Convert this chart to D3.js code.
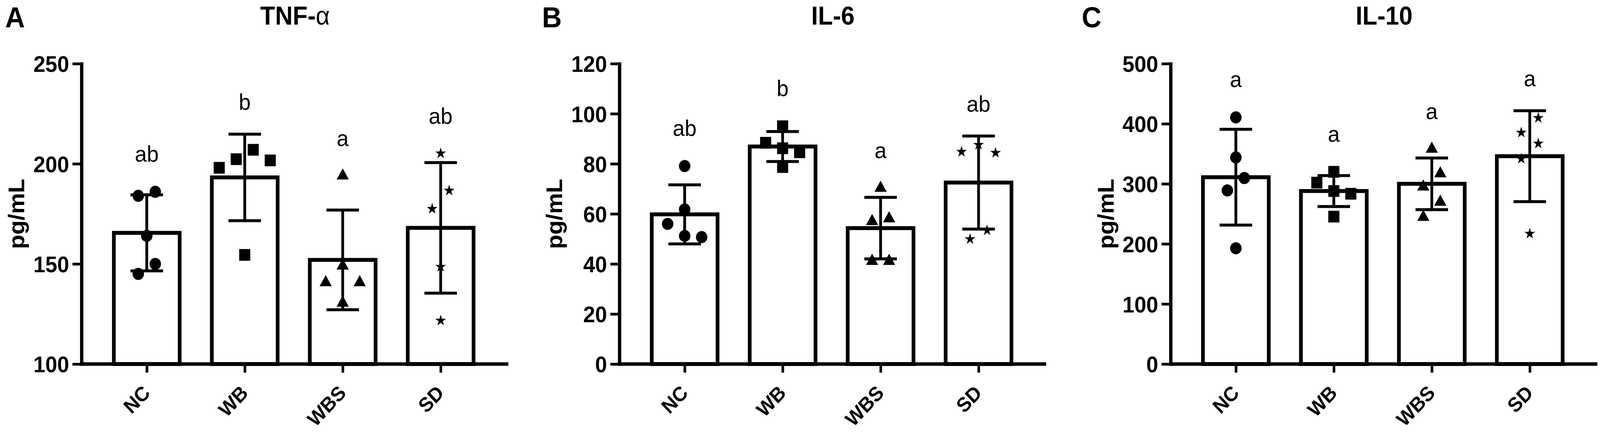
<!DOCTYPE html>
<html><head><meta charset="utf-8">
<script src="https://cdn.jsdelivr.net/npm/d3@7"></script>
<style>html,body{margin:0;padding:0;background:#fff;overflow:hidden}svg{display:block;width:100vw;height:100vh}</style>
</head><body><svg id="chart"></svg>
<script>
// ---------- data ----------
const groups = ["NC", "WB", "WBS", "SD"];
const panelLetters = ["A", "B", "C"];
const panelTitles = ["TNF-α", "IL-6", "IL-10"];
const yLabel = "pg/mL";

const tnfTicks = [100, 150, 200, 250];
const tnfMean = [165.5, 193.2, 152, 168];
const tnfSD = [19, 21.6, 24.9, 32.6];
const tnfPoints = [
  [184, 186, 164, 145, 150],
  [207, 201.7, 198, 202.3, 154.5],
  [194, 149, 140.7, 140.7, 130.5],
  [205.2, 186.6, 177.5, 148.6, 121.7]
];
const tnfSig = ["ab", "b", "a", "ab"];

const il6Ticks = [0, 20, 40, 60, 80, 100, 120];
const il6Mean = [59.8, 86.9, 54.3, 72.5];
const il6SD = [11.8, 6.0, 12.3, 18.6];
const il6Points = [
  [79.1, 61.8, 56, 51.2, 50.7],
  [95, 88.4, 86.2, 84.6, 78.7],
  [70.3, 58.1, 57, 41.1, 41.1],
  [84.8, 84.4, 87.6, 49.9, 53.4]
];
const il6Sig = ["ab", "b", "a", "ab"];

const il10Ticks = [0, 100, 200, 300, 400, 500];
const il10Mean = [311, 288, 300, 346];
const il10SD = [79.7, 25.8, 43, 75.7];
const il10Points = [
  [410.6, 344, 309.6, 289, 192.7],
  [320, 288, 302, 283.5, 245.4],
  [358, 317, 295, 269.7, 244.5],
  [409.6, 385.3, 367, 341.7, 217]
];
const il10Sig = ["a", "a", "a", "a"];

// ---------- layout ----------
const W = 4328, H = 1106;
const TOP = 163, BOTTOM = 932, PLOT_W = 1154;
const axisX = [221, 1676, 3167];
const letterX = [14, 1466, 2926];
const FONT = "'Liberation Sans', Arial, Helvetica, sans-serif";

const panels = [
  {ticks: tnfTicks, mean: tnfMean, sd: tnfSD, pts: tnfPoints, sig: tnfSig},
  {ticks: il6Ticks, mean: il6Mean, sd: il6SD, pts: il6Points, sig: il6Sig},
  {ticks: il10Ticks, mean: il10Mean, sd: il10SD, pts: il10Points, sig: il10Sig}
];

const symbols = [d3.symbolCircle, d3.symbolSquare, d3.symbolTriangle, d3.symbolStar];
const symSizes = [755, 900, 470, 260];
const symHalf = [15.5, 15, 14, 14];

const svg = d3.select("#chart")
  .attr("viewBox", `0 0 ${W} ${H}`)
  .attr("preserveAspectRatio", "none")
  .style("font-family", FONT);
svg.append("rect").attr("width", W).attr("height", H).attr("fill", "#fff");

// beeswarm-style horizontal spreading of overlapping points
function swarm(vals, ys, D, T) {
  const n = vals.length;
  const order = d3.range(n).sort((a, b) => vals[b] - vals[a]);
  const off = new Array(n).fill(0);
  const placed = [];
  const cands = [0];
  for (let k = 1; k < 10; k++) cands.push(-k * D / 2, k * D / 2);
  for (const i of order) {
    for (const c of cands) {
      const ok = placed.every(j => Math.abs(off[j] - c) >= D - 0.01 || Math.abs(ys[j] - ys[i]) >= T);
      if (ok) { off[i] = c; break; }
    }
    placed.push(i);
  }
  const comp = new Array(n).fill(-1);
  let cid = 0;
  for (let i = 0; i < n; i++) {
    if (comp[i] >= 0) continue;
    const stack = [i]; comp[i] = cid;
    while (stack.length) {
      const a = stack.pop();
      for (let b = 0; b < n; b++) {
        if (comp[b] < 0 && Math.abs(ys[a] - ys[b]) < T) { comp[b] = cid; stack.push(b); }
      }
    }
    cid++;
  }
  for (let c = 0; c < cid; c++) {
    const members = d3.range(n).filter(i => comp[i] === c);
    const mn = d3.min(members, i => off[i]), mx = d3.max(members, i => off[i]);
    const shift = -(mn + mx) / 2;
    members.forEach(i => off[i] += shift);
  }
  return off;
}

panels.forEach((p, pi) => {
  const x0 = axisX[pi], x1 = x0 + PLOT_W;
  const g = svg.append("g");
  const y = d3.scaleLinear().domain(d3.extent(p.ticks)).range([BOTTOM, TOP]);
  const x = d3.scalePoint().domain(groups).range([x0 + 176, x0 + 971]);

  // panel letter
  g.append("text").attr("x", letterX[pi]).attr("y", 70)
    .attr("font-size", 74).attr("font-weight", "bold").text(panelLetters[pi]);

  // title
  const t = g.append("text").attr("x", (x0 + x1) / 2).attr("y", 63)
    .attr("text-anchor", "middle").attr("font-size", 66).attr("font-weight", "bold");
  const parts = panelTitles[pi].match(/[\x00-\x7F]+|[^\x00-\x7F]+/g);
  parts.forEach(s => {
    t.append("tspan").attr("font-weight", /[^\x00-\x7F]/.test(s) ? "normal" : "bold").text(s);
  });

  // y label
  g.append("text")
    .attr("transform", `translate(${x0 - 155},${(TOP + BOTTOM) / 2}) rotate(-90)`)
    .attr("text-anchor", "middle").attr("font-size", 60).attr("font-weight", "bold")
    .text(yLabel);

  // bars
  const barW = 178;
  g.selectAll("rect.bar").data(groups).enter().append("rect")
    .attr("x", d => x(d) - barW / 2)
    .attr("y", (d, i) => y(p.mean[i]))
    .attr("width", barW)
    .attr("height", (d, i) => BOTTOM - y(p.mean[i]))
    .attr("fill", "#fff").attr("stroke", "#000").attr("stroke-width", 10);

  // error bars (mean ± SD)
  const capW = 88;
  groups.forEach((d, i) => {
    const cx = x(d), hi = y(p.mean[i] + p.sd[i]), lo = y(p.mean[i] - p.sd[i]);
    g.append("line").attr("x1", cx).attr("x2", cx).attr("y1", hi).attr("y2", lo)
      .attr("stroke", "#000").attr("stroke-width", 7.5);
    [hi, lo].forEach(yy => g.append("line")
      .attr("x1", cx - capW / 2).attr("x2", cx + capW / 2).attr("y1", yy).attr("y2", yy)
      .attr("stroke", "#000").attr("stroke-width", 7.5));
  });

  // points
  groups.forEach((d, i) => {
    const vals = p.pts[i];
    const ys = vals.map(v => y(v));
    const offs = swarm(vals, ys, 46, 48);
    const sym = d3.symbol().type(symbols[i]).size(symSizes[i]);
    g.selectAll(null).data(vals).enter().append("path")
      .attr("d", sym)
      .attr("transform", (v, k) => `translate(${x(d) + offs[k]},${ys[k]})`)
      .attr("fill", "#000");
  });

  // significance letters
  groups.forEach((d, i) => {
    const topErr = y(p.mean[i] + p.sd[i]);
    const topPt = d3.min(p.pts[i], v => y(v)) - symHalf[i];
    const yy = Math.min(topErr, topPt) - 62;
    g.append("text").attr("x", x(d)).attr("y", yy).attr("text-anchor", "middle")
      .attr("font-size", 58).text(p.sig[i]);
  });

  // y axis
  const ya = d3.axisLeft(y).tickValues(p.ticks).tickSize(25).tickSizeOuter(0).tickPadding(9)
    .tickFormat(d3.format("d"));
  const yg = g.append("g").attr("transform", `translate(${x0},0)`).call(ya);
  yg.select(".domain").attr("stroke-width", 9).attr("d", `M0,${BOTTOM + 4.5}V${TOP - 3.5}`);
  yg.selectAll(".tick line").attr("stroke-width", 7);
  yg.selectAll(".tick text").attr("font-size", 58).attr("font-weight", "bold")
    .attr("font-family", FONT).attr("fill", "#000").attr("dy", "0.36em");

  // x axis
  g.append("line").attr("x1", x0 - 4.5).attr("x2", x1).attr("y1", BOTTOM).attr("y2", BOTTOM)
    .attr("stroke", "#000").attr("stroke-width", 9);
  const xa = d3.axisBottom(x).tickSize(22).tickSizeOuter(0).tickFormat("");
  const xg = g.append("g").attr("transform", `translate(0,${BOTTOM})`).call(xa);
  xg.select(".domain").remove();
  xg.selectAll(".tick line").attr("stroke-width", 7);
  g.selectAll("text.xl").data(groups).enter().append("text")
    .attr("transform", d => `translate(${x(d) + 12},${BOTTOM + 77}) rotate(-45)`)
    .attr("text-anchor", "end").attr("font-size", 52).attr("font-weight", "bold")
    .text(d => d);
});
</script></body></html>
